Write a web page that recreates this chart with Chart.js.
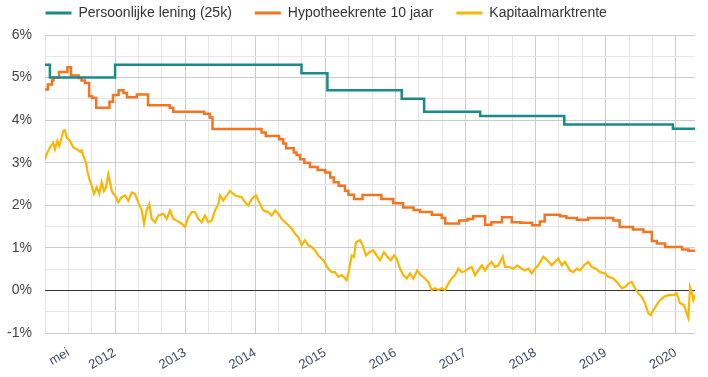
<!DOCTYPE html>
<html>
<head>
<meta charset="utf-8">
<script src="https://cdn.jsdelivr.net/npm/chart.js@4/dist/chart.umd.min.js"></script>
<style>
  body { margin: 0; background: #fff; }
  #chart { display: block; }
</style>
</head>
<body>
<canvas id="chart" width="708" height="377"></canvas>
<script>
// Rentes (%), x = jaar als decimaal getal
const seriesNames = ['Persoonlijke lening (25k)', 'Hypotheekrente 10 jaar', 'Kapitaalmarktrente'];
const seriesColors = ['#1b8a8a', '#f37521', '#fcb500'];

const leningDates  = [2011.000, 2011.070, 2012.000, 2014.660, 2015.030, 2016.090, 2016.410, 2017.210, 2018.410, 2019.960, 2020.275];
const leningValues = [5.30, 5.00, 5.30, 5.10, 4.70, 4.50, 4.20, 4.10, 3.90, 3.80, 3.80];

const hypotheekDates = [
  2011.000, 2011.040, 2011.100, 2011.120, 2011.200, 2011.320, 2011.370, 2011.480, 2011.520, 2011.570,
  2011.630, 2011.670, 2011.730, 2011.920, 2011.970, 2012.050, 2012.120, 2012.170, 2012.310, 2012.470,
  2012.780, 2012.830, 2013.270, 2013.350, 2013.390, 2014.090, 2014.150, 2014.340, 2014.400, 2014.440,
  2014.550, 2014.590, 2014.640, 2014.700, 2014.780, 2014.890, 2015.000, 2015.070, 2015.120, 2015.190,
  2015.280, 2015.330, 2015.410, 2015.530, 2015.800, 2015.970, 2016.110, 2016.260, 2016.350, 2016.520,
  2016.660, 2016.710, 2016.910, 2017.030, 2017.110, 2017.280, 2017.370, 2017.520, 2017.660, 2017.780,
  2017.950, 2018.060, 2018.130, 2018.350, 2018.440, 2018.590, 2018.750, 2019.110, 2019.200, 2019.390,
  2019.540, 2019.660, 2019.730, 2019.850, 2020.090, 2020.180, 2020.275
];
const hypotheekValues = [
  4.72, 4.84, 4.93, 5.00, 5.13, 5.24, 5.05, 4.99, 4.93, 4.87,
  4.56, 4.52, 4.29, 4.43, 4.59, 4.70, 4.64, 4.54, 4.60, 4.35,
  4.29, 4.20, 4.15, 4.06, 3.79, 3.71, 3.63, 3.55, 3.45, 3.34,
  3.24, 3.18, 3.08, 3.00, 2.90, 2.83, 2.77, 2.65, 2.54, 2.46,
  2.34, 2.25, 2.15, 2.24, 2.15, 2.05, 1.95, 1.89, 1.84, 1.78,
  1.70, 1.57, 1.64, 1.68, 1.74, 1.54, 1.60, 1.72, 1.60, 1.59,
  1.53, 1.62, 1.78, 1.74, 1.70, 1.66, 1.70, 1.64, 1.49, 1.43,
  1.37, 1.16, 1.10, 1.02, 0.96, 0.93, 0.93
];

const kapitaalDates = [
  2011.000, 2011.024, 2011.071, 2011.118, 2011.143, 2011.176, 2011.204, 2011.238, 2011.261, 2011.285,
  2011.310, 2011.357, 2011.404, 2011.452, 2011.499, 2011.524, 2011.547, 2011.585, 2011.604, 2011.632,
  2011.666, 2011.699, 2011.738, 2011.775, 2011.809, 2011.842, 2011.870, 2011.903, 2011.928, 2011.952,
  2011.975, 2011.999, 2012.046, 2012.094, 2012.142, 2012.189, 2012.237, 2012.284, 2012.331, 2012.380,
  2012.413, 2012.451, 2012.488, 2012.523, 2012.570, 2012.617, 2012.688, 2012.737, 2012.784, 2012.831,
  2012.879, 2012.951, 2012.998, 2013.045, 2013.093, 2013.140, 2013.188, 2013.236, 2013.283, 2013.330,
  2013.379, 2013.426, 2013.473, 2013.497, 2013.544, 2013.593, 2013.640, 2013.711, 2013.807, 2013.854,
  2013.901, 2013.950, 2014.011, 2014.068, 2014.115, 2014.186, 2014.235, 2014.282, 2014.329, 2014.378,
  2014.425, 2014.472, 2014.520, 2014.568, 2014.615, 2014.663, 2014.710, 2014.757, 2014.806, 2014.853,
  2014.900, 2014.971, 2015.043, 2015.091, 2015.138, 2015.185, 2015.234, 2015.305, 2015.342, 2015.376,
  2015.409, 2015.438, 2015.495, 2015.533, 2015.580, 2015.628, 2015.685, 2015.733, 2015.780, 2015.837,
  2015.884, 2015.933, 2015.980, 2016.019, 2016.066, 2016.113, 2016.161, 2016.208, 2016.255, 2016.312,
  2016.361, 2016.422, 2016.469, 2016.518, 2016.565, 2016.612, 2016.661, 2016.708, 2016.755, 2016.803,
  2016.851, 2016.898, 2016.946, 2016.993, 2017.040, 2017.089, 2017.136, 2017.183, 2017.232, 2017.279,
  2017.326, 2017.374, 2017.421, 2017.468, 2017.531, 2017.564, 2017.625, 2017.682, 2017.739, 2017.802,
  2017.849, 2017.897, 2017.945, 2017.992, 2018.039, 2018.111, 2018.168, 2018.230, 2018.277, 2018.324,
  2018.373, 2018.420, 2018.491, 2018.539, 2018.587, 2018.634, 2018.691, 2018.753, 2018.801, 2018.862,
  2018.920, 2018.991, 2019.038, 2019.109, 2019.158, 2019.229, 2019.276, 2019.323, 2019.372, 2019.419,
  2019.466, 2019.515, 2019.562, 2019.609, 2019.643, 2019.680, 2019.729, 2019.776, 2019.833, 2019.894,
  2019.965, 2020.014, 2020.061, 2020.118, 2020.157, 2020.180, 2020.204, 2020.232, 2020.251, 2020.275
];
const kapitaalValues = [
  3.08, 3.20, 3.36, 3.47, 3.32, 3.51, 3.39, 3.59, 3.75, 3.76,
  3.59, 3.51, 3.36, 3.32, 3.26, 3.29, 3.16, 3.00, 2.81, 2.62,
  2.46, 2.27, 2.42, 2.27, 2.54, 2.34, 2.42, 2.73, 2.54, 2.34,
  2.27, 2.23, 2.07, 2.19, 2.23, 2.11, 2.30, 2.27, 2.07, 1.88,
  1.57, 1.88, 2.03, 1.68, 1.60, 1.76, 1.80, 1.68, 1.88, 1.68,
  1.64, 1.57, 1.49, 1.72, 1.84, 1.84, 1.68, 1.60, 1.76, 1.60,
  1.64, 1.88, 2.03, 2.23, 2.11, 2.23, 2.34, 2.23, 2.19, 2.07,
  1.99, 2.15, 2.23, 2.03, 1.88, 1.84, 1.76, 1.88, 1.80, 1.68,
  1.60, 1.53, 1.45, 1.33, 1.25, 1.06, 1.18, 1.06, 1.02, 0.94,
  0.82, 0.71, 0.51, 0.43, 0.43, 0.32, 0.36, 0.24, 0.51, 0.82,
  0.79, 1.14, 1.18, 1.06, 0.82, 0.90, 0.94, 0.82, 0.71, 0.90,
  0.79, 0.71, 0.82, 0.75, 0.51, 0.36, 0.28, 0.40, 0.28, 0.47,
  0.36, 0.28, 0.20, 0.01, 0.05, 0.01, 0.05, 0.01, 0.16, 0.28,
  0.36, 0.51, 0.43, 0.45, 0.51, 0.55, 0.36, 0.47, 0.59, 0.47,
  0.59, 0.67, 0.55, 0.59, 0.79, 0.55, 0.55, 0.51, 0.59, 0.51,
  0.47, 0.51, 0.40, 0.51, 0.59, 0.79, 0.71, 0.59, 0.67, 0.75,
  0.59, 0.67, 0.47, 0.43, 0.51, 0.47, 0.59, 0.67, 0.55, 0.51,
  0.43, 0.40, 0.32, 0.28, 0.20, 0.05, 0.08, 0.16, 0.20, 0.05,
  -0.07, -0.15, -0.30, -0.54, -0.58, -0.46, -0.34, -0.23, -0.15, -0.11,
  -0.11, -0.07, -0.30, -0.34, -0.54, -0.65, 0.08, -0.07, -0.23, -0.11
];

// As: tick posities en labels
const xTickValues = [
  2011, 2011 + 1/3, 2011 + 2/3, 2012, 2012 + 1/3, 2012 + 2/3, 2013, 2013 + 1/3, 2013 + 2/3,
  2014, 2014 + 1/3, 2014 + 2/3, 2015, 2015 + 1/3, 2015 + 2/3, 2016, 2016 + 1/3, 2016 + 2/3,
  2017, 2017 + 1/3, 2017 + 2/3, 2018, 2018 + 1/3, 2018 + 2/3, 2019, 2019 + 1/3, 2019 + 2/3, 2020
];
const xTickLabels = [
  '', 'mei', '', '2012', '', '', '2013', '', '', '2014', '', '', '2015', '', '',
  '2016', '', '', '2017', '', '', '2018', '', '', '2019', '', '', '2020'
];
const yTickValues = [-1, -0.5, 0, 0.5, 1, 1.5, 2, 2.5, 3, 3.5, 4, 4.5, 5, 5.5, 6];
const yTickLabels = ['-1%', '', '0%', '', '1%', '', '2%', '', '3%', '', '4%', '', '5%', '', '6%'];

const FONT = "'Liberation Sans', Arial, sans-serif";

function toPoints(dates, values) {
  return dates.map((d, i) => ({ x: d, y: values[i] }));
}

// legend laten beginnen bij de plotrand en iets hoger zetten
const legendNudge = {
  id: 'legendNudge',
  afterLayout(chart) {
    const lg = chart.legend;
    lg.left += 22.5;
    lg.right += 22.5;
    lg.top -= 5;
    lg.bottom -= 5;
  }
};

new Chart(document.getElementById('chart'), {
  type: 'line',
  data: {
    datasets: [
      {
        label: seriesNames[0],
        data: toPoints(leningDates, leningValues),
        borderColor: seriesColors[0],
        backgroundColor: seriesColors[0],
        borderWidth: 2.5,
        stepped: true,
        pointRadius: 0
      },
      {
        label: seriesNames[1],
        data: toPoints(hypotheekDates, hypotheekValues),
        borderColor: seriesColors[1],
        backgroundColor: seriesColors[1],
        borderWidth: 2.5,
        stepped: true,
        pointRadius: 0
      },
      {
        label: seriesNames[2],
        data: toPoints(kapitaalDates, kapitaalValues),
        borderColor: seriesColors[2],
        backgroundColor: seriesColors[2],
        borderWidth: 2.2,
        tension: 0,
        pointRadius: 0
      }
    ]
  },
  options: {
    responsive: false,
    animation: false,
    layout: { padding: { left: 0, right: 13, top: -12, bottom: 0 } },
    plugins: {
      tooltip: { enabled: false },
      legend: {
        position: 'top',
        align: 'start',
        labels: {
          boxWidth: 26,
          boxHeight: 3,
          padding: 23,
          color: '#333',
          font: { family: FONT, size: 14 },
          generateLabels: chart => Chart.defaults.plugins.legend.labels.generateLabels(chart)
            .map(item => ({ ...item, lineWidth: 0, fillStyle: item.strokeStyle }))
        }
      }
    },
    scales: {
      x: {
        type: 'linear',
        min: 2011,
        max: 2020.275,
        afterBuildTicks: axis => { axis.ticks = xTickValues.map(value => ({ value })); },
        afterFit: axis => { axis.height = 44; },
        border: { display: false },
        grid: {
          drawTicks: false,
          lineWidth: 1,
          color: ctx => (ctx.index > 0 && ctx.index % 3 === 0) ? '#cbcbcb' : '#e6e6e6'
        },
        ticks: {
          autoSkip: false,
          minRotation: 30,
          maxRotation: 30,
          padding: 12,
          color: '#3e4a63',
          font: { family: FONT, size: 13 },
          callback: (v, i) => xTickLabels[i]
        }
      },
      y: {
        type: 'linear',
        min: -1,
        max: 6,
        afterBuildTicks: axis => { axis.ticks = yTickValues.map(value => ({ value })); },
        afterFit: axis => { axis.width = 45; },
        border: { display: false },
        grid: {
          drawTicks: false,
          lineWidth: 1,
          color: ctx => {
            const v = ctx.tick.value;
            if (v === 0) return '#333';
            return Number.isInteger(v) ? '#cbcbcb' : '#e6e6e6';
          }
        },
        ticks: {
          padding: 13,
          color: '#444',
          font: { family: FONT, size: 14 },
          callback: (v, i) => yTickLabels[i]
        }
      }
    }
  },
  plugins: [legendNudge]
});
</script>
</body>
</html>
